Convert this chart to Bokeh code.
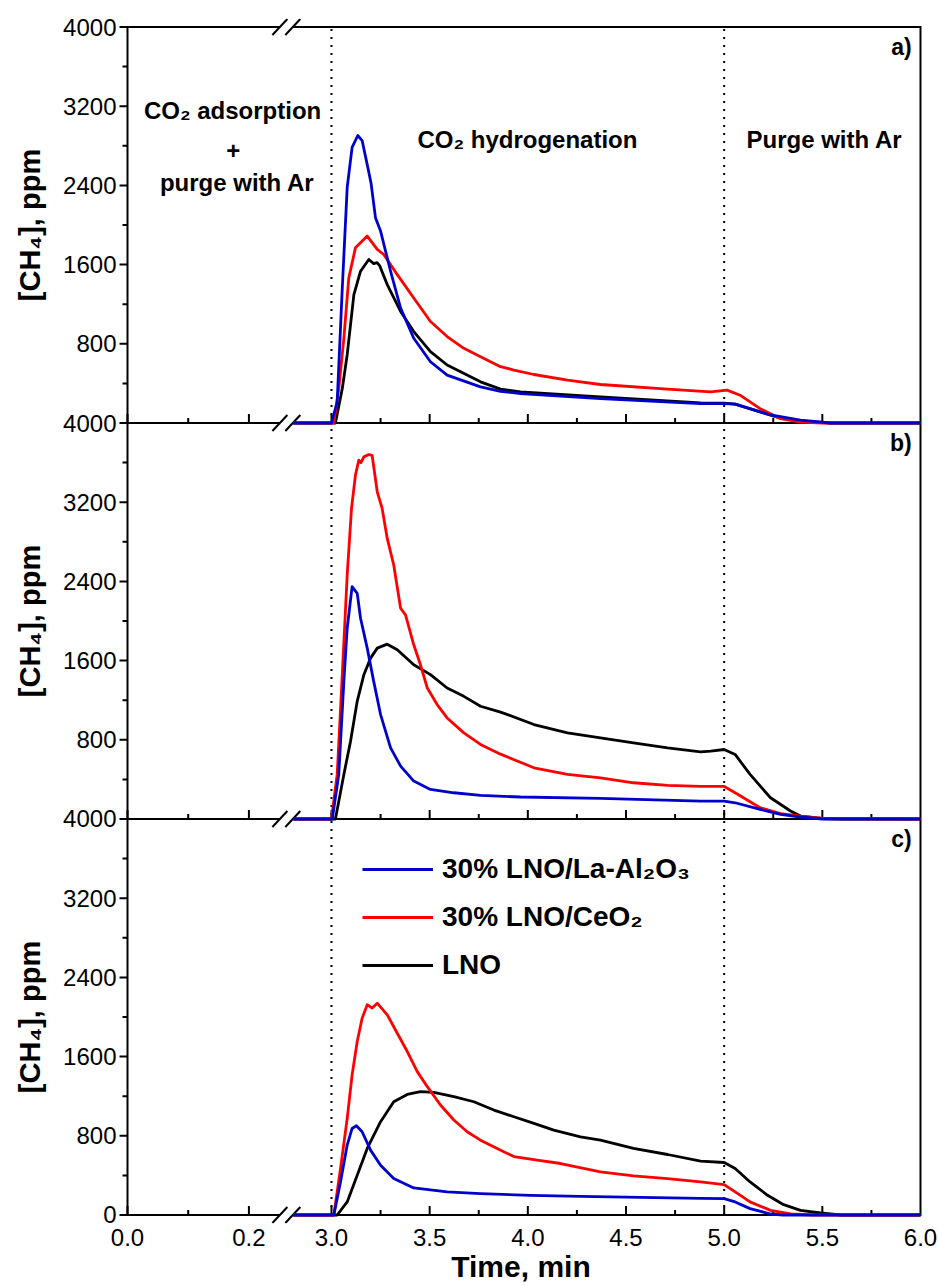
import numpy as np
from bokeh.plotting import figure
from bokeh.layouts import row
from bokeh.models import Range1d, FixedTicker, Legend, LegendItem
from bokeh.core.properties import value
from bokeh.embed import file_html
from bokeh.resources import INLINE

# ---------------- data (time in min, [CH4] in ppm) ----------------
t_a_blue = [2.806, 3.0, 3.029, 3.055, 3.08, 3.105, 3.134, 3.156, 3.185, 3.202, 3.224, 3.25, 3.301, 3.352,
            3.419, 3.504, 3.589, 3.759, 3.861, 3.963, 4.37, 4.88, 5.0, 5.056, 5.236, 5.389, 5.54, 6.0]
v_a_blue = [0, 0, 213, 1364, 2380, 2785, 2904, 2853, 2582, 2416, 2074, 1939, 1533, 1160,
            856, 619, 484, 365, 320, 297, 247, 196, 196, 190, 81, 30, 0, 0]
t_a_red = [2.806, 3.012, 3.037, 3.063, 3.088, 3.122, 3.182, 3.233, 3.266, 3.335, 3.419, 3.504, 3.589, 3.674,
           3.759, 3.861, 3.929, 4.031, 4.202, 4.37, 4.712, 4.931, 5.015, 5.081, 5.183, 5.287, 5.389, 5.5, 6.0]
v_a_red = [0, 0, 348, 856, 1465, 1770, 1888, 1753, 1702, 1499, 1262, 1025, 873, 754,
           670, 569, 535, 490, 433, 389, 342, 315, 332, 281, 145, 44, 10, 0, 0]
t_a_black = [2.806, 3.02, 3.055, 3.08, 3.114, 3.148, 3.19, 3.215, 3.232, 3.245, 3.284, 3.352, 3.419, 3.504,
             3.589, 3.759, 3.861, 3.963, 4.37, 4.88, 5.0, 5.056, 5.183, 5.287, 5.389, 5.54, 6.0]
v_a_black = [0, 0, 348, 690, 1296, 1533, 1652, 1610, 1620, 1590, 1398, 1127, 924, 721,
             586, 416, 342, 315, 264, 203, 200, 190, 112, 50, 20, 0, 0]

t_b_blue = [2.806, 3.004, 3.037, 3.063, 3.08, 3.105, 3.131, 3.148, 3.182, 3.215, 3.25, 3.301, 3.352, 3.419,
            3.504, 3.623, 3.759, 3.963, 4.37, 4.88, 5.0, 5.056, 5.183, 5.287, 5.389, 5.5, 6.0]
v_b_blue = [0, 0, 450, 1390, 1927, 2348, 2280, 2028, 1726, 1390, 1055, 718, 534, 383,
            299, 265, 239, 222, 208, 181, 181, 164, 97, 47, 20, 0, 0]
t_b_red = [2.806, 3.0, 3.029, 3.055, 3.08, 3.102, 3.122, 3.139, 3.15, 3.165, 3.19, 3.207, 3.233, 3.258,
           3.284, 3.317, 3.352, 3.377, 3.419, 3.453, 3.488, 3.538, 3.589, 3.674, 3.759, 3.861, 4.031, 4.202,
           4.37, 4.538, 4.712, 4.88, 5.0, 5.056, 5.183, 5.287, 5.389, 5.5, 6.0]
v_b_red = [0, 0, 450, 1458, 2466, 3137, 3473, 3624, 3600, 3658, 3681, 3674, 3305, 3137,
           2834, 2566, 2129, 2062, 1760, 1558, 1323, 1156, 1021, 870, 753, 655, 517, 450,
           416, 366, 339, 329, 329, 265, 114, 54, 30, 5, 0]
t_b_black = [2.806, 3.02, 3.063, 3.097, 3.131, 3.165, 3.199, 3.233, 3.284, 3.335, 3.419, 3.504, 3.589, 3.674,
             3.759, 3.861, 4.031, 4.202, 4.37, 4.538, 4.712, 4.88, 4.931, 5.0, 5.056, 5.132, 5.236, 5.338,
             5.389, 5.5, 5.6, 6.0]
v_b_black = [0, 0, 450, 786, 1189, 1458, 1625, 1726, 1766, 1710, 1558, 1458, 1323, 1239,
             1139, 1080, 954, 870, 819, 769, 718, 678, 685, 702, 652, 450, 215, 81,
             30, 5, 0, 0]

t_c_blue = [2.806, 3.012, 3.046, 3.08, 3.105, 3.127, 3.156, 3.199, 3.25, 3.317, 3.419, 3.589, 3.759, 4.014,
            4.268, 4.88, 5.0, 5.056, 5.132, 5.236, 5.3, 6.0]
v_c_blue = [0, 0, 334, 706, 874, 901, 841, 655, 503, 368, 273, 233, 216, 199,
            188, 168, 165, 132, 64, 10, 0, 0]
t_c_red = [2.806, 3.012, 3.046, 3.08, 3.105, 3.131, 3.156, 3.182, 3.207, 3.233, 3.284, 3.335, 3.386, 3.437,
           3.488, 3.555, 3.623, 3.691, 3.759, 3.844, 3.929, 4.065, 4.167, 4.37, 4.538, 4.712, 4.88, 5.0,
           5.056, 5.132, 5.236, 5.338, 5.45, 6.0]
v_c_red = [0, 0, 469, 975, 1415, 1752, 1988, 2124, 2090, 2140, 2022, 1836, 1651, 1448,
           1296, 1111, 959, 841, 756, 672, 590, 550, 520, 435, 395, 368, 334, 307,
           233, 132, 47, 10, 0, 0]
t_c_black = [2.806, 3.029, 3.08, 3.131, 3.182, 3.25, 3.317, 3.386, 3.453, 3.521, 3.623, 3.725, 3.827, 3.929,
             4.031, 4.132, 4.268, 4.37, 4.538, 4.712, 4.88, 5.0, 5.056, 5.132, 5.221, 5.303, 5.389, 5.491,
             5.593, 6.0]
v_c_black = [0, 0, 132, 402, 672, 942, 1144, 1218, 1246, 1239, 1195, 1144, 1060, 992,
             925, 857, 790, 756, 672, 611, 544, 530, 469, 334, 199, 104, 47, 20,
             0, 0]

series_names = ["30% LNO/La-Al\u2082O\u2083", "30% LNO/CeO\u2082", "LNO"]
series_colors = ["#0000CC", "#FF0000", "#000000"]
panel_labels = ["a)", "b)", "c)"]
y_title = "[CH\u2084], ppm"
x_title = "Time, min"

# broken x axis: left part shows 0.0-0.2, right part shows 3.0-6.0
left_ticks_major = [0.0, 0.2]
left_ticks_minor = [0.1]
right_ticks_major = [3.0, 3.5, 4.0, 4.5, 5.0, 5.5, 6.0]
right_ticks_minor = [3.25, 3.75, 4.25, 4.75, 5.25, 5.75]
y_ticks_major = [0, 800, 1600, 2400, 3200, 4000]
y_ticks_minor = [400, 1200, 2000, 2800, 3600]

# ---------------- layout constants ----------------
PX_PER_MIN = 196.3          # right part of broken axis
LEFT_PX_PER_MIN = 607.0     # left part of broken axis
X_LEFT = 1.961              # display coordinate of t = 0.0
BREAK_L, BREAK_R = 2.737, 2.803
PX_PER_PPM = 1186.0 / 12000.0
PAD_Y = 8.5 / PX_PER_PPM
PAD_L = 10 / PX_PER_MIN
PAD_R = 4 / PX_PER_MIN
H = 1285
TOP_B = 27 - 8.5
BOT_B = 63 - 0.5
LAB_W = 58
FONT = "Liberation Sans"


def left_u(t):
    return round(X_LEFT + t * LEFT_PX_PER_MIN / PX_PER_MIN, 4)


yr = Range1d(-PAD_Y, 12000 + PAD_Y)

p = figure(width=938 - LAB_W, height=H, output_backend="svg", toolbar_location=None,
           x_range=Range1d(X_LEFT - PAD_L, 6.0 + PAD_R), y_range=yr,
           min_border_left=117 - LAB_W, min_border_right=14,
           min_border_top=int(round(TOP_B)), min_border_bottom=int(round(BOT_B)))
p.extra_y_ranges = {"a": Range1d(-8000 - PAD_Y, 4000 + PAD_Y),
                    "b": Range1d(-4000 - PAD_Y, 8000 + PAD_Y)}
p.outline_line_color = None
p.grid.visible = False

# x axis (labels only; lines and ticks drawn below)
xa = p.xaxis[0]
x_major_u = [left_u(t) for t in left_ticks_major] + right_ticks_major
x_minor_u = [left_u(t) for t in left_ticks_minor] + right_ticks_minor
xa.ticker = FixedTicker(ticks=x_major_u, minor_ticks=[])
xa.major_label_overrides = {u: f"{t:.1f}" for u, t in zip(x_major_u, left_ticks_major + right_ticks_major)}
xa.axis_line_color = None
xa.major_tick_line_color = None
xa.minor_tick_line_color = None
xa.major_tick_in = 0
xa.major_tick_out = 0
xa.major_label_standoff = 5
xa.major_label_text_font = FONT
xa.major_label_text_font_size = "24px"
xa.major_label_text_color = "black"
xa.axis_label = x_title
xa.axis_label_standoff = 1
xa.axis_label_text_font = FONT
xa.axis_label_text_font_style = "bold"
xa.axis_label_text_font_size = "30px"
xa.axis_label_text_color = "black"

# y axis (labels only)
ya = p.yaxis[0]
y_major_all = sorted(set(k * 4000 + v for k in range(3) for v in y_ticks_major))
y_minor_all = [k * 4000 + v for k in range(3) for v in y_ticks_minor]
ya.ticker = FixedTicker(ticks=y_major_all, minor_ticks=[])
ya.major_label_overrides = {v: ("0" if v == 0 else str(v % 4000 if v % 4000 else 4000)) for v in y_major_all}
ya.axis_line_color = None
ya.major_tick_line_color = None
ya.minor_tick_line_color = None
ya.major_tick_in = 0
ya.major_tick_out = 0
ya.major_label_standoff = 1
ya.major_label_text_font = FONT
ya.major_label_text_font_size = "24px"
ya.major_label_text_color = "black"

# frame lines with axis break
bounds = [0, 4000, 8000, 12000]
n = len(bounds)
p.segment(x0=[X_LEFT] * n, y0=bounds, x1=[BREAK_L] * n, y1=bounds, line_color="black", line_width=2)
p.segment(x0=[BREAK_R] * n, y0=bounds, x1=[6.0] * n, y1=bounds, line_color="black", line_width=2)
p.segment(x0=[X_LEFT, 6.0], y0=[0, 0], x1=[X_LEFT, 6.0], y1=[12000, 12000],
          line_color="black", line_width=2, line_cap="square")

# break slashes
SL_DX = 7.5 / PX_PER_MIN
SL_DY = 8.0 / PX_PER_PPM
sx0, sy0, sx1, sy1 = [], [], [], []
for b in bounds:
    for c in (BREAK_L, BREAK_R):
        sx0.append(c - SL_DX); sy0.append(b - SL_DY)
        sx1.append(c + SL_DX); sy1.append(b + SL_DY)
p.segment(x0=sx0, y0=sy0, x1=sx1, y1=sy1, line_color="black", line_width=2)

# x ticks (pointing up into each panel)
tb = [0, 4000, 8000]
xm = x_major_u[:-1]
p.ray(x=[u for b in tb for u in xm], y=[b for b in tb for u in xm],
      length=9, length_units="screen", angle=np.pi / 2, line_color="black", line_width=2)
p.ray(x=[u for b in tb for u in x_minor_u], y=[b for b in tb for u in x_minor_u],
      length=5, length_units="screen", angle=np.pi / 2, line_color="black", line_width=2)

# y ticks (outward)
p.ray(x=[X_LEFT] * len(y_major_all), y=y_major_all, length=8, length_units="screen",
      angle=np.pi, line_color="black", line_width=2)
p.ray(x=[X_LEFT] * len(y_minor_all), y=y_minor_all, length=5, length_units="screen",
      angle=np.pi, line_color="black", line_width=2)

# dotted step markers
p.segment(x0=[3.0, 5.0], y0=[0, 0], x1=[3.0, 5.0], y1=[12000, 12000],
          line_color="black", line_width=2, line_dash="2 6")

# data lines
panels = {
    "a": [(t_a_black, v_a_black, 2), (t_a_red, v_a_red, 1), (t_a_blue, v_a_blue, 0)],
    "b": [(t_b_black, v_b_black, 2), (t_b_red, v_b_red, 1), (t_b_blue, v_b_blue, 0)],
    "default": [(t_c_black, v_c_black, 2), (t_c_red, v_c_red, 1), (t_c_blue, v_c_blue, 0)],
}
legend_renderers = {}
for rname, lst in panels.items():
    for t, v, k in lst:
        r = p.line(t, v, y_range_name=rname, line_color=series_colors[k], line_width=2.8,
                   line_join="round")
        if rname == "default":
            legend_renderers[k] = r

legend = Legend(items=[LegendItem(label=series_names[k], renderers=[legend_renderers[k]]) for k in range(3)],
                location=(245, 242), glyph_width=71, glyph_height=28, label_height=28,
                label_standoff=9, spacing=16, padding=0, margin=0,
                border_line_color=None, background_fill_alpha=0,
                label_text_font=FONT, label_text_font_style="bold", label_text_font_size="28px",
                label_text_color="black")
p.add_layout(legend)

# annotations in panel a
txt = dict(text_font=value(FONT), text_font_style="bold", text_font_size="24px",
           text_align="center", text_baseline="middle", text_color="black")
p.text(x=[2.496, 2.50, 2.52], y=[3157, 2751, 2430],
       text=["CO\u2082 adsorption", "+", "purge with Ar"], y_range_name="a", **txt)
p.text(x=[3.998, 5.511], y=[2863, 2863], text=["CO\u2082 hydrogenation", "Purge with Ar"],
       y_range_name="a", **txt)

# panel letters
for lab, rname in zip(panel_labels, ["a", "b", "default"]):
    p.text(x=[5.955], y=[3795], text=[lab], y_range_name=rname, text_font=value(FONT),
           text_font_style="bold", text_font_size="23px", text_align="right", text_baseline="middle")

# y titles, one per panel, in a narrow figure sharing the vertical range
q = figure(width=LAB_W, height=H, output_backend="svg", toolbar_location=None,
           x_range=Range1d(0, LAB_W), y_range=yr, x_axis_location=None, y_axis_location=None,
           min_border_left=0, min_border_right=0,
           min_border_top=int(round(TOP_B)), min_border_bottom=int(round(BOT_B)))
q.outline_line_color = None
q.grid.visible = False
q.text(x=[29, 29, 29], y=[10000, 6000, 2000], text=[y_title] * 3, angle=np.pi / 2,
       text_font=value(FONT), text_font_style="bold", text_font_size="29px",
       text_align="center", text_baseline="middle", text_color="black")

layout = row(q, p, spacing=0)
open("out.html", "w").write(file_html(layout, INLINE))
